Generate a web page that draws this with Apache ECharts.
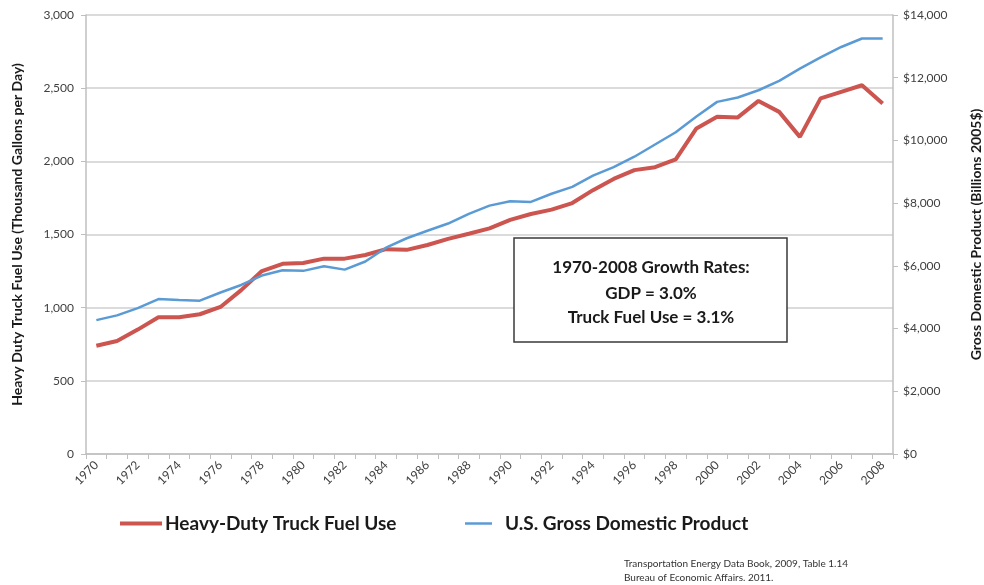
<!DOCTYPE html>
<html>
<head>
<meta charset="utf-8">
<script src="https://cdn.jsdelivr.net/npm/echarts@6/dist/echarts.min.js"></script>
<style>
  html, body { margin: 0; padding: 0; background: #fff; }
  #chart { width: 984px; height: 585px; }
</style>
</head>
<body>
<div id="chart"></div>
<script>
var years = [];
for (var y = 1970; y <= 2008; y++) years.push(String(y));

// Heavy-duty truck fuel use, thousand gallons per day
var fuelUse = [740, 772, 850, 935, 935, 955, 1005, 1120, 1250, 1300,
  1305, 1335, 1335, 1360, 1400, 1395, 1428, 1470, 1505, 1542,
  1600, 1640, 1670, 1715, 1803, 1880, 1940, 1960, 2013, 2225,
  2304, 2300, 2413, 2338, 2167, 2430, 2475, 2520, 2395];

// US GDP, billions 2005$
var gdp = [4270, 4420, 4650, 4940, 4910, 4890, 5150, 5390, 5690, 5860,
  5840, 5990, 5880, 6140, 6580, 6880, 7120, 7350, 7660, 7920,
  8060, 8040, 8300, 8520, 8880, 9150, 9480, 9870, 10260, 10760,
  11230, 11370, 11600, 11900, 12290, 12650, 12980, 13250, 13250];

var boxLines = ['1970-2008 Growth Rates:', 'GDP = 3.0%', 'Truck Fuel Use = 3.1%'];
var sourceLines = ['Transportation Energy Data Book, 2009, Table 1.14', 'Bureau of Economic Affairs. 2011.'];

var font = 'Lato, "Open Sans", sans-serif';
var axisGray = '#bfbfbf';

var chart = echarts.init(document.getElementById('chart'));
var option = {
  backgroundColor: '#fff',
  animation: false,
  textStyle: { fontFamily: font },
  grid: { left: 86, right: 91, top: 15, bottom: 131, outerBoundsMode: 'none' },
  legend: [
    {
      left: 115, top: 509,
      icon: 'rect',
      itemWidth: 42, itemHeight: 4,
      data: ['Heavy-Duty Truck Fuel Use'],
      textStyle: { fontFamily: font, fontSize: 19, fontWeight: 'bold', color: '#1a1a1a', padding: [0, 0, 0, -2] }
    },
    {
      left: 460, top: 509,
      icon: 'rect',
      itemWidth: 27, itemHeight: 2.5,
      data: ['U.S. Gross Domestic Product'],
      textStyle: { fontFamily: font, fontSize: 19, fontWeight: 'bold', color: '#1a1a1a', padding: [0, 0, 0, 8] }
    }
  ],
  xAxis: {
    type: 'category',
    data: years,
    boundaryGap: true,
    axisLine: { lineStyle: { color: axisGray, width: 1.5 } },
    axisTick: { show: true, interval: 0, length: 5, lineStyle: { color: axisGray } },
    axisLabel: { interval: 1, rotate: 45, fontSize: 12, color: '#404040', fontFamily: font, margin: 9 }
  },
  yAxis: [
    {
      type: 'value',
      min: 0, max: 3000, interval: 500,
      name: 'Heavy Duty Truck Fuel Use (Thousand Gallons per Day)',
      nameLocation: 'middle',
      nameGap: 62,
      nameTextStyle: { fontFamily: font, fontSize: 14, fontWeight: 'bold', color: '#1a1a1a' },
      axisLine: { show: true, lineStyle: { color: axisGray, width: 1.5 } },
      axisTick: { show: true, length: 5, lineStyle: { color: axisGray } },
      axisLabel: {
        fontSize: 12, color: '#404040', fontFamily: font, margin: 12,
        formatter: function (v) { return v.toLocaleString('en-US'); }
      },
      splitLine: { lineStyle: { color: '#cfcfcf', width: 1.5 } }
    },
    {
      type: 'value',
      min: 0, max: 14000, interval: 2000,
      position: 'right',
      name: 'Gross Domestic Product (Billions 2005$)',
      nameLocation: 'middle',
      nameGap: 76,
      nameTextStyle: { fontFamily: font, fontSize: 14, fontWeight: 'bold', color: '#1a1a1a' },
      axisLine: { show: true, lineStyle: { color: axisGray, width: 1.5 } },
      axisTick: { show: true, length: 5, lineStyle: { color: axisGray } },
      axisLabel: {
        fontSize: 12, color: '#404040', fontFamily: font, margin: 10,
        formatter: function (v) { return '$' + v.toLocaleString('en-US'); }
      },
      splitLine: { show: false }
    }
  ],
  series: [
    {
      name: 'Heavy-Duty Truck Fuel Use',
      type: 'line',
      yAxisIndex: 0,
      data: fuelUse,
      symbol: 'none',
      lineStyle: { color: '#cc5550', width: 4 },
      itemStyle: { color: '#cc5550' },
      z: 3
    },
    {
      name: 'U.S. Gross Domestic Product',
      type: 'line',
      yAxisIndex: 1,
      data: gdp,
      symbol: 'none',
      lineStyle: { color: '#5b9bd5', width: 2.5 },
      itemStyle: { color: '#5b9bd5' },
      z: 4
    }
  ],
  graphic: [
    {
      type: 'rect',
      shape: { x: 514, y: 238, width: 273, height: 104 },
      style: { fill: '#fff', stroke: '#3a3a3a', lineWidth: 1.5 },
      z: 10
    },
    {
      type: 'text',
      x: 651, y: 268,
      style: { text: boxLines[0], fontFamily: font, fontSize: 17, fontWeight: 'bold', fill: '#1a1a1a', align: 'center', verticalAlign: 'middle' },
      z: 11
    },
    {
      type: 'text',
      x: 651, y: 294,
      style: { text: boxLines[1], fontFamily: font, fontSize: 17, fontWeight: 'bold', fill: '#1a1a1a', align: 'center', verticalAlign: 'middle' },
      z: 11
    },
    {
      type: 'text',
      x: 651, y: 318,
      style: { text: boxLines[2], fontFamily: font, fontSize: 17, fontWeight: 'bold', fill: '#1a1a1a', align: 'center', verticalAlign: 'middle' },
      z: 11
    },
    {
      type: 'text',
      x: 624, y: 557,
      style: { text: sourceLines.join('\n'), fontFamily: font, fontSize: 10, lineHeight: 14, fill: '#333' },
      z: 11
    }
  ]
};
chart.setOption(option);
</script>
</body>
</html>
